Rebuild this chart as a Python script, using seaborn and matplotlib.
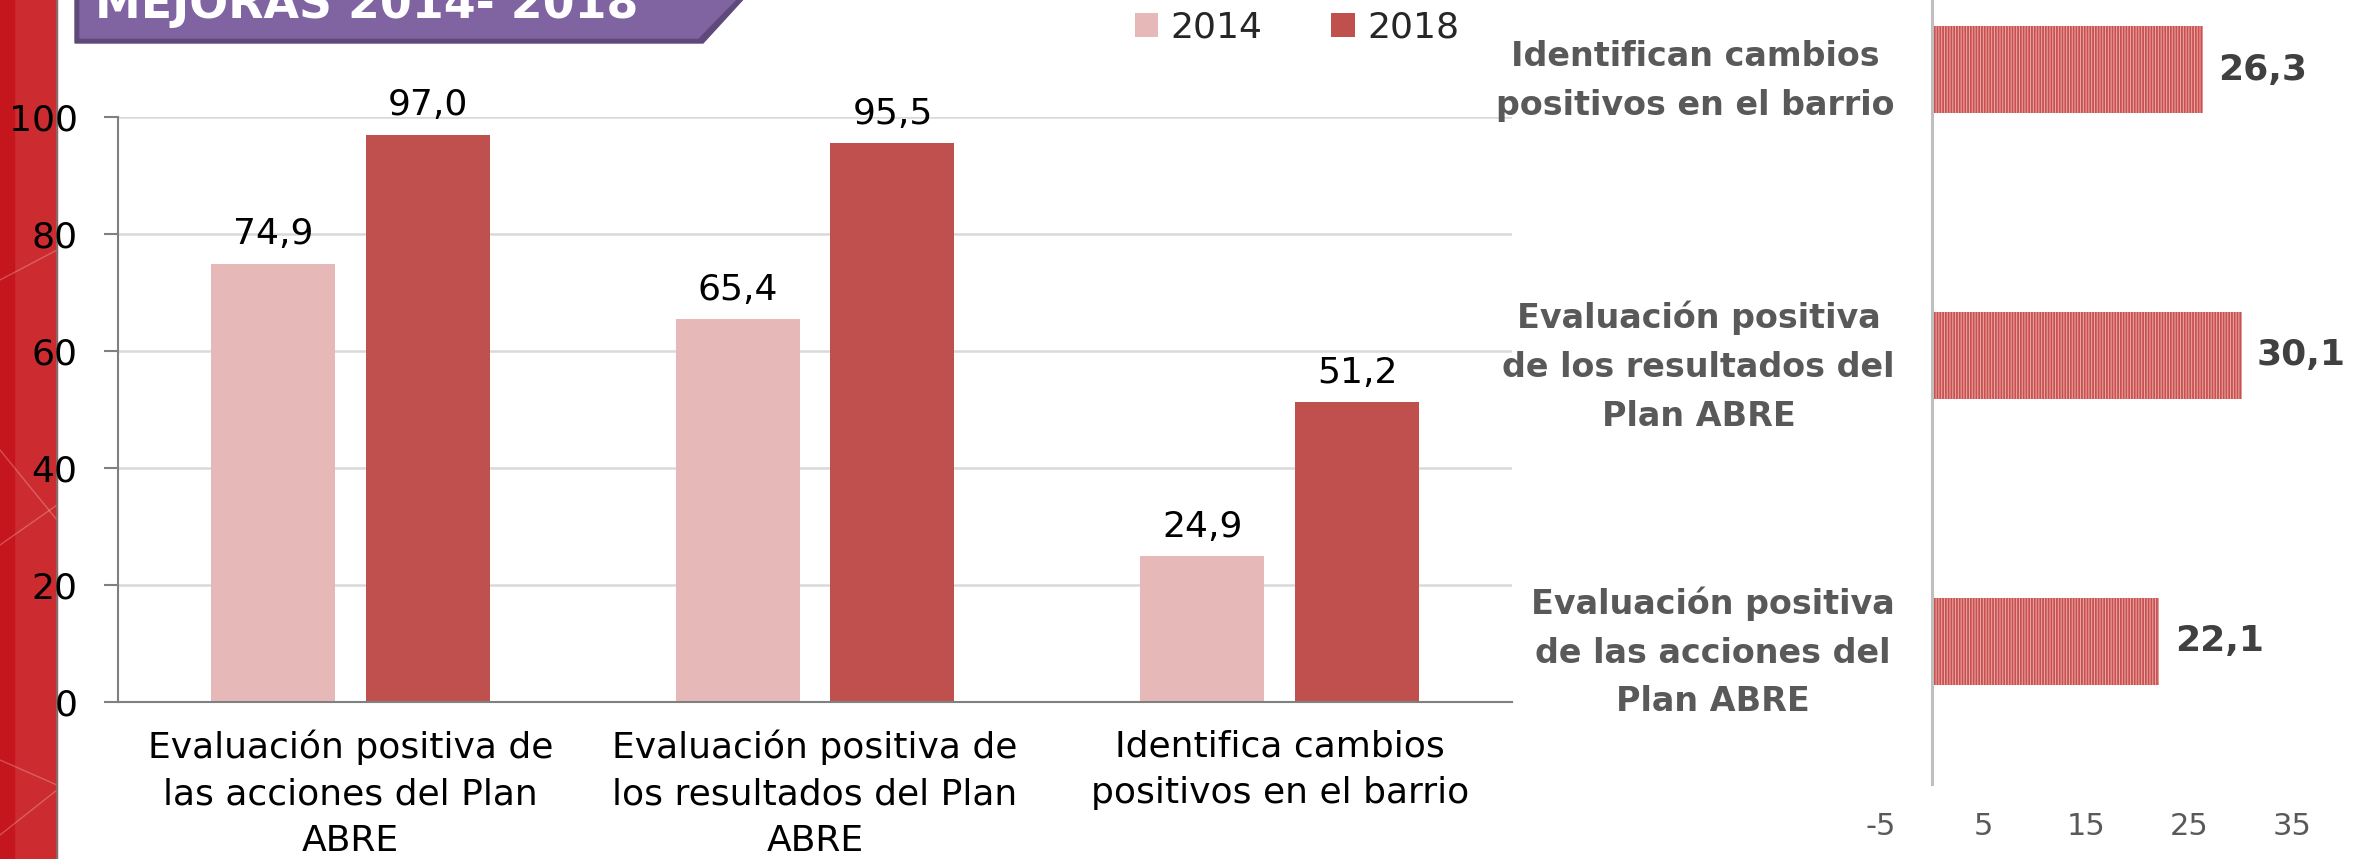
import numpy as np
import pandas as pd
import matplotlib
matplotlib.use('Agg')
import matplotlib.pyplot as plt
import seaborn as sns
from matplotlib.patches import Rectangle, Polygon
from matplotlib.lines import Line2D

# data
categorias = ['Evaluación positiva de\nlas acciones del Plan\nABRE',
              'Evaluación positiva de\nlos resultados del Plan\nABRE',
              'Identifica cambios\npositivos en el barrio']
anios = ['2014', '2018']
valores_2014 = [74.9, 65.4, 24.9]
valores_2018 = [97.0, 95.5, 51.2]

categorias_dif = ['Identifican cambios\npositivos en el barrio',
                  'Evaluación positiva\nde los resultados del\nPlan ABRE',
                  'Evaluación positiva\nde las acciones del\nPlan ABRE']
diferencias = [26.3, 30.1, 22.1]

titulo = 'MEJORAS 2014- 2018'
yticks_izq = [0, 20, 40, 60, 80, 100]
xticks_der = [-5, 5, 15, 25, 35]

c2014 = '#e6b9b8'
c2018 = '#c0504d'

sns.set_style('white')
plt.rcParams['font.family'] = ['DejaVu Sans']
plt.rcParams['axes.unicode_minus'] = False
plt.rcParams['hatch.linewidth'] = 1.3

W, H = 2353, 859
fig = plt.figure(figsize=(W / 100, H / 100), dpi=100)


def px(x, y):
    # pixel position (from top-left) -> figure fraction
    return (x / W, 1 - y / H)


# red side stripe
fig.add_artist(Rectangle((0, 0), 57 / W, 1, transform=fig.transFigure,
                         color='#cc2b2f', zorder=-5))
fig.add_artist(Rectangle((0, 0), 14 / W, 1, transform=fig.transFigure,
                         color='#c4161c', zorder=-4))
for (x0, y0, x1, y1) in [(0, 280, 57, 250), (0, 450, 57, 520), (0, 545, 57, 505),
                         (0, 760, 57, 785), (0, 835, 57, 790)]:
    a, b = px(x0, y0)
    c, d = px(x1, y1)
    fig.add_artist(Line2D([a, c], [b, d], transform=fig.transFigure,
                          color='white', alpha=0.25, lw=1, zorder=-3))
fig.add_artist(Line2D([57 / W, 57 / W], [0, 1], transform=fig.transFigure,
                      color='#777777', lw=1.2, zorder=-3))

# title banner
sombra = [px(75, -5), px(747, -5), px(703, 43), px(75, 43)]
banda = [px(80, -5), px(740, -5), px(698, 38), px(80, 38)]
fig.add_artist(Polygon(sombra, closed=True, transform=fig.transFigure,
                       color='#5f497a', zorder=-2))
fig.add_artist(Polygon(banda, closed=True, transform=fig.transFigure,
                       color='#8064a2', zorder=-1))
fig.text(95 / W, 1 - 18 / H, titulo, color='white', fontsize=33,
         fontweight='bold', ha='left', va='baseline')

# left chart
ax = fig.add_axes([118 / W, (H - 702) / H, 1394 / W, 585 / H])
df = pd.DataFrame({
    'categoria': categorias * 2,
    'anio': [anios[0]] * 3 + [anios[1]] * 3,
    'valor': valores_2014 + valores_2018,
})
sns.barplot(data=df, x='categoria', y='valor', hue='anio',
            palette=[c2014, c2018], width=0.667, gap=0.2,
            saturation=1, ax=ax, linewidth=0)
ax.set_ylim(0, 100)
ax.set_yticks(yticks_izq)
ax.yaxis.grid(True, color='#d9d9d9', lw=1.8)
ax.set_axisbelow(True)
ax.set_xlabel('')
ax.set_ylabel('')
for s in ['top', 'right']:
    ax.spines[s].set_visible(False)
for s in ['left', 'bottom']:
    ax.spines[s].set_color('#808080')
    ax.spines[s].set_linewidth(1.5)
ax.tick_params(axis='y', length=10, width=1.5, color='#808080', pad=19,
               labelsize=26, labelcolor='black', left=True)
ax.tick_params(axis='x', length=0, pad=20, labelsize=26, labelcolor='black')
for t in ax.get_xticklabels():
    t.set_linespacing(1.45)
for cont, vals in zip(ax.containers, [valores_2014, valores_2018]):
    ax.bar_label(cont, labels=[f'{v:.1f}'.replace('.', ',') for v in vals],
                 padding=9, fontsize=26, color='black')

handles = ax.legend_.legend_handles
etiquetas = [t.get_text() for t in ax.legend_.texts]
ax.legend_.remove()
fig.legend(handles, etiquetas, loc='center', bbox_to_anchor=(1297 / W, 1 - 28 / H),
           ncol=2, frameon=False, fontsize=26, handlelength=0.65,
           handleheight=0.65, handletextpad=0.35, columnspacing=1.9,
           borderpad=0)

# right chart
ax2 = fig.add_axes([1881 / W, (H - 784) / H, 411 / W, 857 / H])
sns.barplot(x=diferencias, y=categorias_dif, orient='h', color=c2018,
            width=0.305, saturation=1, ax=ax2)
for p in ax2.patches:
    p.set_facecolor('#eaaeac')
    p.set_edgecolor('#c9504f')
    p.set_linewidth(0)
    p.set_hatch('||||||')
ax2.set_xlim(-5, 35)
ax2.set_xticks(xticks_der)
ax2.set_xlabel('')
ax2.set_ylabel('')
for s in ['top', 'right', 'bottom']:
    ax2.spines[s].set_visible(False)
ax2.spines['left'].set_position(('data', 0))
ax2.spines['left'].set_color('#bfbfbf')
ax2.spines['left'].set_linewidth(2.2)
ax2.tick_params(axis='y', length=0, pad=27, labelsize=24, labelcolor='#595959')
ax2.tick_params(axis='x', length=0, pad=20, labelsize=22, labelcolor='#595959')
for t in ax2.get_yticklabels():
    t.set_fontweight('bold')
    t.set_multialignment('center')
    t.set_linespacing(1.6)
ax2.bar_label(ax2.containers[0],
              labels=[f'{v:.1f}'.replace('.', ',') for v in diferencias],
              padding=11, fontsize=26, fontweight='bold', color='#404040')

fig.savefig('out.png', dpi=100)
